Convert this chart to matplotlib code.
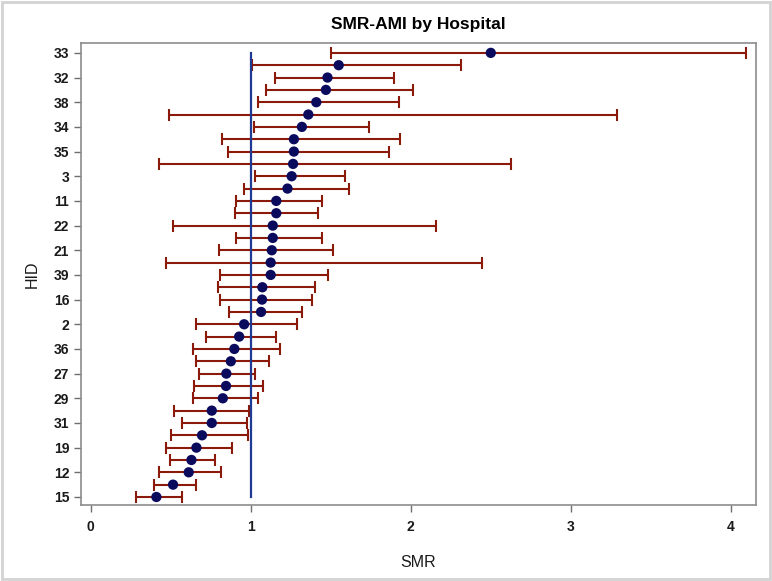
import matplotlib
matplotlib.use("Agg")
import matplotlib.pyplot as plt
import numpy as np

plt.rcParams['font.family'] = ['Liberation Sans', 'DejaVu Sans']

# Hospitals ordered top to bottom (only every other one is labelled on the axis)
hid = ["33", "1", "32", "4", "38", "5", "34", "6", "35", "7", "3", "8",
       "11", "9", "22", "10", "21", "13", "39", "14", "16", "17", "2", "18",
       "36", "20", "27", "23", "29", "24", "31", "25", "19", "26", "12", "28", "15"]
smr = [2.50, 1.55, 1.48, 1.47, 1.41, 1.36, 1.32, 1.27, 1.27, 1.265, 1.256, 1.23,
       1.16, 1.16, 1.138, 1.138, 1.132, 1.125, 1.125, 1.073, 1.071, 1.065, 0.959, 0.928,
       0.898, 0.876, 0.848, 0.846, 0.826, 0.757, 0.757, 0.696, 0.661, 0.630, 0.613, 0.515, 0.411]
lower = [1.504, 1.011, 1.155, 1.094, 1.048, 0.49, 1.021, 0.823, 0.861, 0.428, 1.027, 0.961,
         0.909, 0.901, 0.517, 0.907, 0.801, 0.472, 0.809, 0.794, 0.809, 0.863, 0.661, 0.721,
         0.638, 0.661, 0.676, 0.645, 0.638, 0.524, 0.57, 0.503, 0.472, 0.497, 0.426, 0.399, 0.286]
upper = [4.094, 2.316, 1.894, 2.016, 1.925, 3.287, 1.738, 1.933, 1.862, 2.628, 1.588, 1.617,
         1.446, 1.423, 2.156, 1.446, 1.513, 2.447, 1.486, 1.400, 1.385, 1.319, 1.288, 1.161,
         1.184, 1.115, 1.026, 1.079, 1.048, 0.992, 0.976, 0.982, 0.882, 0.780, 0.815, 0.661, 0.572]
ref_value = 1.0
x_ticks = [0, 1, 2, 3, 4]

smr = np.array(smr)
lo = smr - np.array(lower)
hi = np.array(upper) - smr
y = np.arange(len(hid))

fig = plt.figure(figsize=(7.72, 5.81), dpi=100)
ax = fig.add_axes([81/772, 1 - 505/581, (756 - 81)/772, (505 - 43)/581])

ax.errorbar(smr, y, xerr=[lo, hi], fmt='none', ecolor='#8B1A0A',
            elinewidth=1.5, capsize=4, capthick=1.5, zorder=2)
ax.plot([ref_value, ref_value], [y[0], y[-1]], color='#1F3A93', lw=1.6, zorder=3)
ax.scatter(smr, y, s=55, color='#0B0B5E', zorder=4, edgecolors='none')

ax.set_xlim(-0.06, 4.157)
ax.set_ylim(len(hid) - 1 + 0.65, -0.8)
ax.set_xticks(x_ticks)
ax.set_xticklabels([str(t) for t in x_ticks])
ax.set_yticks(y[::2])
ax.set_yticklabels(hid[::2])

for s in ax.spines.values():
    s.set_color('#8C8C8C')
    s.set_linewidth(1.2)
ax.tick_params(axis='both', colors='#6E6E6E', length=5, width=1.0,
               labelsize=10, labelcolor='#1A1A1A')
ax.tick_params(axis='x', pad=6)
for lab in ax.get_xticklabels() + ax.get_yticklabels():
    lab.set_fontweight('bold')

ax.set_xlabel("SMR", fontsize=11.5, color='#1A1A1A', labelpad=15)
ax.set_ylabel("HID", fontsize=11.5, color='#1A1A1A', labelpad=10)
ax.set_title("SMR-AMI by Hospital", fontsize=12.5, fontweight='bold', pad=10)

fig.patches.append(plt.Rectangle((0.003, 0.004), 0.994, 0.992, transform=fig.transFigure,
                                 fill=False, edgecolor='#D3D3D3', lw=2))

fig.savefig("out.png", dpi=100)
